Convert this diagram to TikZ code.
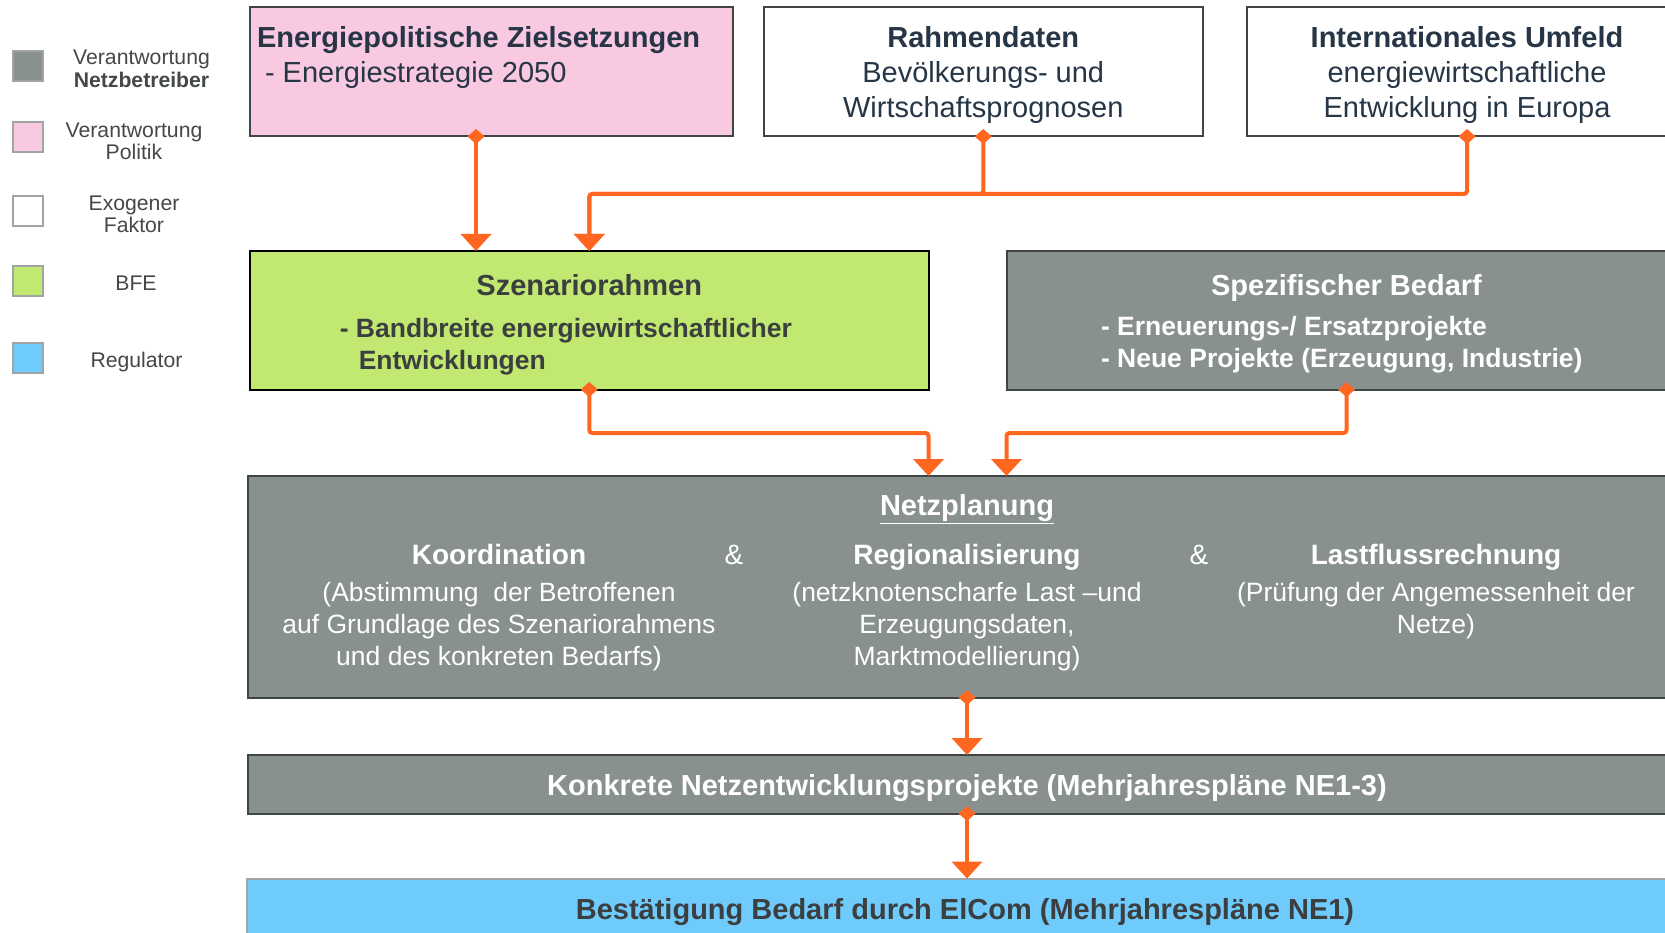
\documentclass[tikz,border=0pt]{standalone}
\usepackage{fontspec}
\setmainfont{Liberation Sans}
\usetikzlibrary{arrows.meta}
\definecolor{pinkfill}{HTML}{F9C8E1}
\definecolor{greenfill}{HTML}{C1E870}
\definecolor{grayfill}{HTML}{889090}
\definecolor{bluefill}{HTML}{70CBFD}
\definecolor{orangeline}{HTML}{FF6720}
\definecolor{boxline}{HTML}{404545}
\definecolor{legline}{HTML}{A0A4A4}
\definecolor{navytext}{HTML}{263646}
\definecolor{darktext}{HTML}{3C3F40}
\definecolor{legtext}{HTML}{444848}
\newcommand\setfs[2]{\fontsize{#1}{#2}\selectfont}
\begin{document}
\begin{tikzpicture}[x=1pt,y=-1pt,
 box/.style={draw=boxline,line width=2pt,anchor=north west,inner sep=0pt,outer sep=0pt},
 legsq/.style={draw=legline,line width=2pt,minimum size=30pt,inner sep=0pt},
 txt/.style={inner sep=0pt,outer sep=0pt,anchor=north,align=center},
 txtl/.style={inner sep=0pt,outer sep=0pt,anchor=north west,align=left},
 legtxt/.style={txt,text=legtext,font=\setfs{21.2}{21}},
 toptitle/.style={font=\setfs{29}{35}},
 body/.style={font=\setfs{26.5}{31.8}},
 conn/.style={draw=orangeline,line width=4pt,rounded corners=3pt,
   arrows={Diamond[length=15pt,width=17pt]-Triangle[length=17pt,width=30pt]}},
]
\fill[white] (0,0) rectangle (1665,933);
\useasboundingbox (0,0) rectangle (1665,933);

% legend
\node[legsq,fill=grayfill] (lg1) at (28.25,66.3) {};
\node[legsq,fill=pinkfill] (lg2) at (28.25,137.2) {};
\node[legsq,fill=white] (lg3) at (28.25,210.8) {};
\node[legsq,fill=greenfill] (lg4) at (28.25,281.2) {};
\node[legsq,fill=bluefill] (lg5) at (28.25,357.5) {};
\node[legtxt] (lt1) at (141.5,50.3) {\strut Verantwortung\\\textbf{Netzbetreiber}};
\node[legtxt] (lt2) at (134,122.6) {\strut Verantwortung\\Politik};
\node[legtxt] (lt3) at (134,195.6) {\strut Exogener\\Faktor};
\node[legtxt] (lt4) at (136,275.6) {\strut BFE};
\node[legtxt] (lt5) at (136.5,352.1) {\strut Regulator};

% boxes
\node[box,fill=pinkfill,minimum width=483.5pt,minimum height=129pt] (pink) at (249.5,7.5) {};
\node[box,fill=white,minimum width=439.5pt,minimum height=129pt] (rahmen) at (763.5,7.5) {};
\node[box,fill=white,minimum width=440pt,minimum height=129pt] (intl) at (1247,7.5) {};
\node[box,draw=black,fill=greenfill,minimum width=679.5pt,minimum height=138.5pt] (green) at (249.5,251) {};
\node[box,fill=grayfill,minimum width=680pt,minimum height=138.5pt] (spez) at (1006.5,251) {};
\node[box,fill=grayfill,minimum width=1438pt,minimum height=221.5pt] (netz) at (248,476) {};
\node[box,fill=grayfill,minimum width=1438pt,minimum height=58.5pt] (konk) at (248,755) {};
\node[box,draw=legline,fill=bluefill,minimum width=1441pt,minimum height=80pt] (best) at (246.5,878.5) {};

% top texts
\node[txtl,toptitle,text=navytext] (tpink) at (257,22.7)
  {\strut\textbf{Energiepolitische Zielsetzungen}\\\hspace*{8pt}- Energiestrategie 2050};
\node[txt,toptitle,text=navytext] (trahmen) at (983.25,22.7)
  {\strut\textbf{Rahmendaten}\\Bevölkerungs- und\\Wirtschaftsprognosen};
\node[txt,toptitle,text=navytext] (tintl) at (1467,22.7)
  {\strut\textbf{Internationales Umfeld}\\energiewirtschaftliche\\Entwicklung in Europa};

% green / spez texts
\node[txt,toptitle,text=darktext] (tgreen) at (589.25,270.5) {\strut\textbf{Szenariorahmen}};
\node[txtl,body,text=darktext] (tgreenb) at (339.8,315.5)
  {\strut\textbf{- Bandbreite energiewirtschaftlicher}\\\hspace*{19pt}\textbf{Entwicklungen}};
\node[txt,toptitle,text=white] (tspez) at (1346.5,270.5) {\strut\textbf{Spezifischer Bedarf}};
\node[txtl,body,text=white] (tspezb) at (1101,313.2)
  {\strut\textbf{- Erneuerungs-/ Ersatzprojekte}\\\textbf{- Neue Projekte (Erzeugung, Industrie)}};

% Netzplanung texts
\node[txt,toptitle,text=white] (tnetz) at (967,490.9) {\strut\textbf{\underline{Netzplanung}}};
\node[txt,font=\setfs{28}{34},text=white] (hk) at (499,540.2) {\strut\textbf{Koordination}};
\node[txt,font=\setfs{28}{34},text=white] (amp1) at (734,540.2) {\strut\&};
\node[txt,font=\setfs{28}{34},text=white] (hr) at (967,540.2) {\strut\textbf{Regionalisierung}};
\node[txt,font=\setfs{28}{34},text=white] (amp2) at (1199,540.2) {\strut\&};
\node[txt,font=\setfs{28}{34},text=white] (hl) at (1436,540.2) {\strut\textbf{Lastflussrechnung}};
\node[txt,body,text=white] (bk) at (499,579.7)
  {\strut(Abstimmung\ \ der Betroffenen\\auf Grundlage des Szenariorahmens\\und des konkreten Bedarfs)};
\node[txt,body,text=white] (br) at (967,579.7)
  {\strut(netzknotenscharfe Last –und\\Erzeugungsdaten,\\Marktmodellierung)};
\node[txt,body,text=white] (bl) at (1436,579.7)
  {\strut(Prüfung der Angemessenheit der\\Netze)};

% bottom texts
\node[txt,toptitle,text=white] (tkonk) at (967,771.2)
  {\strut\textbf{Konkrete Netzentwicklungsprojekte (Mehrjahrespläne NE1-3)}};
\node[txt,toptitle,text=darktext] (tbest) at (965,895.4)
  {\strut\textbf{Bestätigung Bedarf durch ElCom (Mehrjahrespläne NE1)}};

% connectors
\coordinate (pa) at (476,0);
\coordinate (na) at (928.5,0);
\coordinate (nb) at (1006.5,0);
\coordinate (hy1) at (0,194);
\coordinate (hy2) at (0,433);
\draw[conn] ([yshift=7.5pt]pa |- pink.south) -- (pa |- green.north);
\draw[conn] ([yshift=7.5pt]rahmen.south) -- (rahmen.south |- hy1) -| (green.north);
\draw[conn] ([yshift=7.5pt]intl.south) -- (intl.south |- hy1) -| (green.north);
\draw[conn] ([yshift=7.5pt]green.south) -- (green.south |- hy2) -| (na |- netz.north);
\draw[conn] ([yshift=7.5pt]spez.south) -- (spez.south |- hy2) -| (nb |- netz.north);
\draw[conn] ([yshift=7.5pt]netz.south) -- (konk.north);
\draw[conn] ([yshift=7.5pt]konk.south) -- (konk.south |- best.north);
\end{tikzpicture}
\end{document}
